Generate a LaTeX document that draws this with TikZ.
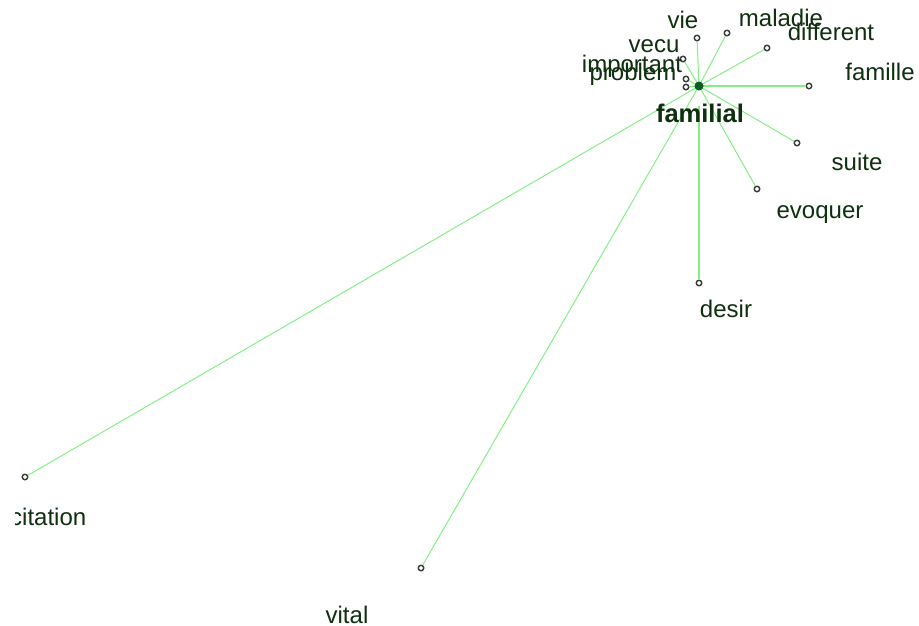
\documentclass[tikz,border=0pt]{standalone}
\usepackage{fontspec}
\setmainfont{Liberation Sans}
\definecolor{edgegreen}{HTML}{84F084}
\definecolor{labelgreen}{HTML}{0E300E}
\definecolor{hubgreen}{HTML}{0B5A28}
\definecolor{dotgray}{HTML}{3A3A3A}
\begin{document}
\begin{tikzpicture}[x=1pt,y=-1pt,
  vert/.style={circle,draw=dotgray,fill=white,line width=1.4pt,inner sep=0pt,minimum size=5.5pt},
  hub/.style={circle,fill=hubgreen,inner sep=0pt,minimum size=9pt},
  lbl/.style={anchor=base,text=labelgreen,font=\fontsize{24}{24}\selectfont,inner sep=0pt},
  link/.style={draw=edgegreen,line width=1pt}]
\useasboundingbox[fill=white] (0,0) rectangle (919,625);
% vertices
\coordinate (c) at (699,86);
\node[vert] (vie) at (697,38) {};
\node[vert] (maladie) at (727,33) {};
\node[vert] (different) at (767,48) {};
\node[vert] (famille) at (809,86) {};
\node[vert] (suite) at (797,143) {};
\node[vert] (evoquer) at (757,189) {};
\node[vert] (desir) at (699,283) {};
\node[vert] (vecu) at (683,59) {};
\node[vert] (important) at (686,79) {};
\node[vert] (probleme) at (686,87) {};
\node[vert] (citation) at (25,477) {};
\node[vert] (vital) at (421,568) {};
% edges
\foreach \v in {vie,maladie,different,suite,evoquer,vecu,important,probleme,citation,vital}
  \draw[link] (c) -- (\v);
\draw[link,line width=1.6pt] (c) -- (famille);
\draw[link,line width=1.8pt] ([yshift=-20pt]c) -- (desir);
\node[hub] (familial) at (c) {};
% labels
\node[lbl] (lvie) at (683,28) {vie};
\node[lbl] (lmaladie) at (781,26) {maladie};
\node[lbl] (ldifferent) at (831,40) {different};
\node[lbl] (lfamille) at (880,80) {famille};
\node[lbl] (lsuite) at (857,170) {suite};
\node[lbl] (levoquer) at (820,218) {evoquer};
\node[lbl] (ldesir) at (726,317) {desir};
\node[lbl] (lvecu) at (654,52) {vecu};
\node[lbl] (limportant) at (632,72) {important};
\node[lbl] (lprobleme) at (633,80) {problem};
\node[lbl,font=\fontsize{25.5}{25.5}\selectfont\bfseries] (lfamilial) at (700,122) {familial};
\begin{scope}
\clip (15,480) rectangle (200,540);
\node[lbl,anchor=base west] (lcitation) at (10,525) {citation};
\end{scope}
\node[lbl] (lvital) at (347,623) {vital};
\end{tikzpicture}
\end{document}
